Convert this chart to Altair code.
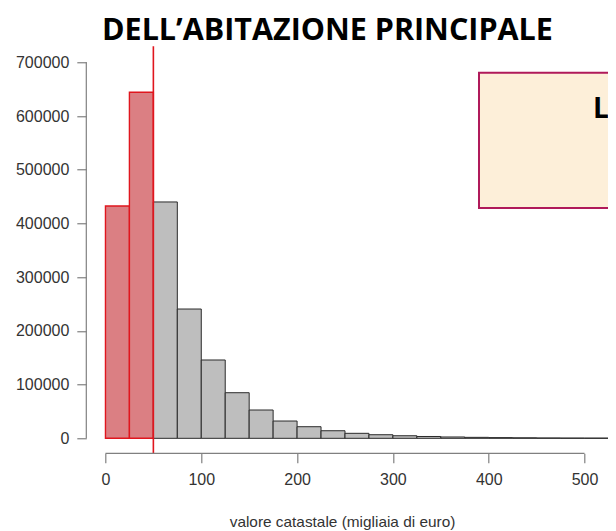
import altair as alt
import pandas as pd

# ---- data ----
bin_start = [0, 25, 50, 75, 100, 125, 150, 175, 200, 225, 250, 275, 300,
             325, 350, 375, 400, 425, 450, 475, 500]
counts = [432500, 644200, 440000, 240700, 145800, 84900, 52700, 32200,
          21600, 14100, 9300, 6700, 4800, 3400, 2500, 1800, 1300, 1000,
          700, 500, 400]
bin_width = 25
threshold = [50]
x_ticks = [0, 100, 200, 300, 400, 500]
y_ticks = [0, 100000, 200000, 300000, 400000, 500000, 600000, 700000]
title_text = "DELL’ABITAZIONE PRINCIPALE"
x_title = "valore catastale (migliaia di euro)"
box_text = "L"

# ---- layout / style ----
PAD_L = 78.3
W = 521.7
H = 406.1
x_dom = [-20, 524.5]
y_dom = [-28000, 728000]
axis_grey = "#808080"
label_col = "#333333"
red_fill = "#DB7F83"
red_stroke = "#E0161E"
grey_fill = "#BEBEBE"

df = pd.DataFrame({"start": bin_start, "count": counts})
df["end"] = df["start"] + bin_width

x_scale = alt.Scale(domain=x_dom, nice=False, zero=False)
y_scale = alt.Scale(domain=y_dom, nice=False, zero=False)

x_axis = alt.Axis(values=x_ticks, domain=False, grid=False, tickSize=9.5,
                  tickColor=axis_grey, tickWidth=1.2,
                  labelFont="Liberation Sans", labelFontSize=16,
                  labelColor=label_col, labelPadding=9, labelFlush=False,
                  title=x_title, titleFont="Liberation Sans",
                  titleFontSize=15.4, titleFontWeight="normal",
                  titleColor=label_col, titleY=73.5, titleX=255.7,
                  titleBaseline="alphabetic", titleAlign="center")
y_axis = alt.Axis(values=y_ticks, format="d", domain=False, grid=False,
                  tickSize=9.5, tickColor=axis_grey, tickWidth=1.2,
                  labelFont="Liberation Sans", labelFontSize=16,
                  labelColor=label_col, labelPadding=8, labelFlush=False,
                  title=None)

is_red = alt.datum.start < threshold[0]

bars = alt.Chart(df).mark_rect(clip=True).encode(
    x=alt.X("start:Q", scale=x_scale, axis=x_axis),
    x2="end:Q",
    y=alt.Y("count:Q", scale=y_scale, axis=y_axis),
    y2=alt.Y2Datum(0),
    fill=alt.condition(is_red, alt.value(red_fill), alt.value(grey_fill)),
    stroke=alt.condition(is_red, alt.value(red_stroke), alt.value("#2a2a2a")),
    strokeWidth=alt.condition(is_red, alt.value(1.4), alt.value(1.0)),
)

vline = alt.Chart(pd.DataFrame({"soglia": threshold})).mark_rule(
    color=red_stroke, strokeWidth=1.6
).encode(x=alt.X("soglia:Q", scale=x_scale, axis=x_axis),
         y=alt.value(-1), y2=alt.value(H))

xline = alt.Chart(pd.DataFrame({"a": [x_ticks[0]], "b": [x_ticks[-1]]})).mark_rule(
    color=axis_grey, strokeWidth=1.2
).encode(x=alt.X("a:Q", scale=x_scale, axis=x_axis), x2="b:Q", y=alt.value(H))

yline = alt.Chart(pd.DataFrame({"a": [y_ticks[0]], "b": [y_ticks[-1]]})).mark_rule(
    color=axis_grey, strokeWidth=1.2
).encode(y=alt.Y("a:Q", scale=y_scale, axis=y_axis), y2="b:Q", x=alt.value(0))

box = alt.Chart(pd.DataFrame({"k": [0]})).mark_rect(
    fill="#FDEFD9", stroke="#B01A5A", strokeWidth=2
).encode(x=alt.value(392.7), x2=alt.value(W + 20), y=alt.value(25.4), y2=alt.value(160.7))

box_label = alt.Chart(pd.DataFrame({"t": [box_text]})).mark_text(
    font="Open Sans", fontWeight="bold", fontSize=28, color="black",
    align="left", baseline="alphabetic"
).encode(text="t:N", x=alt.value(W - 15), y=alt.value(70.5))

chart = alt.layer(box, box_label, bars, vline, xline, yline).properties(
    width=W, height=H,
    autosize=alt.AutoSizeParams(type="none"),
    padding={"left": PAD_L, "top": 39.26, "right": 0, "bottom": 80},
    title=alt.TitleParams(text=title_text, font="Open Sans", fontSize=30.5,
                          fontWeight="bold", color="black", anchor="middle",
                          dx=-19.7, dy=9, offset=8),
).configure(background="white").configure_view(stroke=None)

chart.save("out.html", embed_options={"renderer": "svg", "actions": False})
